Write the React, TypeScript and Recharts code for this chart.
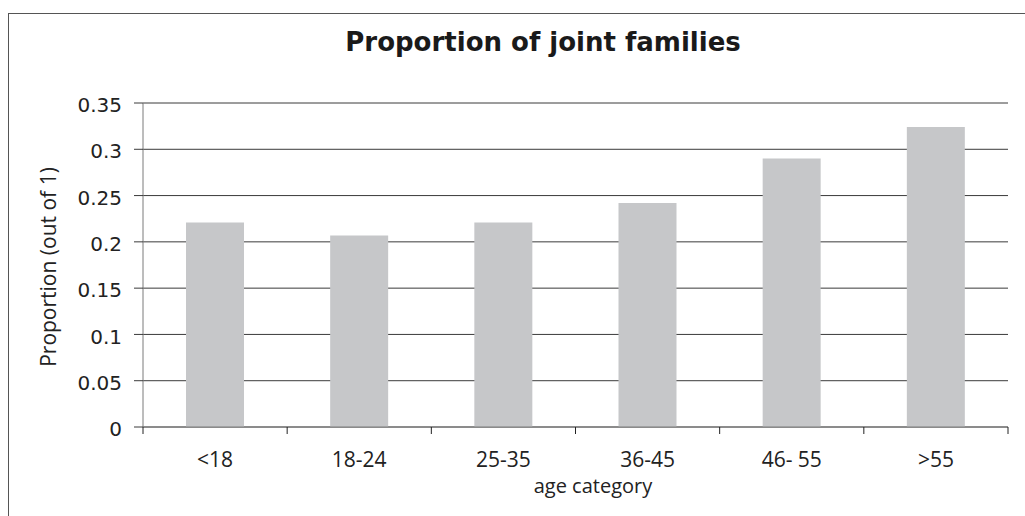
import React from "react";
import {
  Bar,
  BarChart,
  CartesianGrid,
  Customized,
  XAxis,
  YAxis,
} from "recharts";

const AGE_CATEGORIES = ["<18", "18-24", "25-35", "36-45", "46- 55", ">55"];
const JOINT_PROPORTION = [0.221, 0.207, 0.221, 0.242, 0.29, 0.324];
const Y_TICKS = [0, 0.05, 0.1, 0.15, 0.2, 0.25, 0.3, 0.35];

const CHART_WIDTH = 1025;
const CHART_HEIGHT = 516;

const data = AGE_CATEGORIES.map((category, index) => ({
  category,
  proportion: JOINT_PROPORTION[index],
}));

interface CategoryTickProps {
  x?: number;
  y?: number;
  index?: number;
  payload?: { value: string; offset?: number };
}

// Label centred in its band, plus the tick marks on the band edges
// (Excel-style "between categories" ticks).
function CategoryTick({ x = 0, y = 0, index = 0, payload }: CategoryTickProps) {
  const half = payload?.offset ?? 72;
  const last = index === AGE_CATEGORIES.length - 1;
  return (
    <g>
      <line x1={x - half} y1={y} x2={x - half} y2={y + 7} stroke="#222222" />
      {last ? (
        <line x1={x + half} y1={y} x2={x + half} y2={y + 7} stroke="#222222" />
      ) : null}
      <text
        x={x}
        y={y + 40}
        textAnchor="middle"
        fill="#222222"
        fontSize={21}
        fontFamily="'Open Sans', sans-serif"
      >
        {payload?.value}
      </text>
    </g>
  );
}

// Title, axis titles and the frame round the chart area.
function ChartDecorations(): React.ReactElement {
  return (
    <g>
      <line x1={8.5} y1={13} x2={8.5} y2={CHART_HEIGHT} stroke="#555555" strokeWidth={1} />
      <line x1={8} y1={13.5} x2={CHART_WIDTH} y2={13.5} stroke="#555555" strokeWidth={1} />
      <text
        x={543}
        y={51}
        textAnchor="middle"
        fill="#1a1a1a"
        fontSize={26}
        fontWeight={700}
        fontFamily="'DejaVu Sans', Verdana, sans-serif"
      >
        Proportion of joint families
      </text>
      <text
        transform="translate(56 267) rotate(-90)"
        textAnchor="middle"
        fill="#222222"
        fontSize={21}
        fontFamily="'Open Sans', sans-serif"
      >
        Proportion (out of 1)
      </text>
      <text
        x={593}
        y={493}
        textAnchor="middle"
        fill="#222222"
        fontSize={20}
        fontFamily="'Open Sans', sans-serif"
      >
        age category
      </text>
    </g>
  );
}

export default function App(): React.ReactElement {
  return (
    <div
      style={{
        position: "absolute",
        left: 0,
        top: 0,
        width: CHART_WIDTH,
        height: CHART_HEIGHT,
        overflow: "hidden",
        background: "#ffffff",
      }}
    >
      <BarChart
        width={CHART_WIDTH}
        height={CHART_HEIGHT}
        data={data}
        margin={{ top: 103, right: 17, bottom: 0, left: 0 }}
        barSize={58}
      >
        <CartesianGrid vertical={false} stroke="#3a3a3a" />
        <XAxis
          dataKey="category"
          height={89}
          interval={0}
          axisLine={{ stroke: "#7a7a7a" }}
          tickLine={false}
          tickSize={0}
          tickMargin={0}
          tick={<CategoryTick />}
        />
        <YAxis
          width={143}
          domain={[0, 0.35]}
          ticks={Y_TICKS}
          interval={0}
          tickSize={9}
          tickMargin={12}
          axisLine={{ stroke: "#7a7a7a" }}
          tickLine={{ stroke: "#3a3a3a" }}
          tick={{
            fill: "#222222",
            fontSize: 20,
            fontFamily: "'DejaVu Sans', Verdana, sans-serif",
            dy: 2,
          }}
        />
        <Bar dataKey="proportion" fill="#c6c7c9" isAnimationActive={false} />
        <Customized component={<ChartDecorations />} />
      </BarChart>
    </div>
  );
}
